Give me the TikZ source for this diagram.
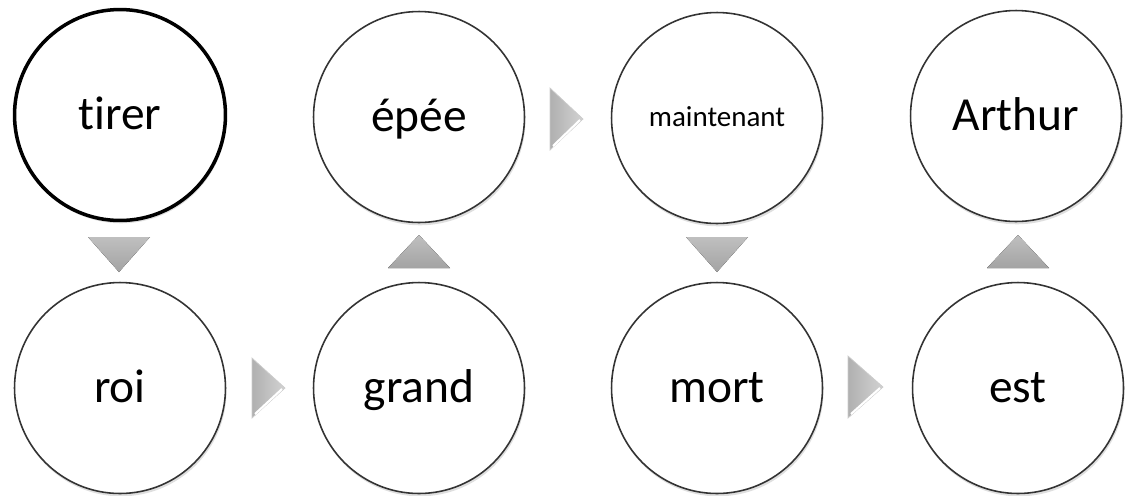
\documentclass[tikz,border=0pt]{standalone}
\usepackage{fontspec}
\setmainfont[Ligatures=NoCommon]{Carlito}
\usetikzlibrary{shadows}
\definecolor{ringgray}{rgb}{0.2,0.2,0.2}

\begin{document}
\begin{tikzpicture}[x=0.02cm,y=-0.02cm,
    word/.style={circle, draw=ringgray, line width=0.9pt, fill=white,
      minimum size=4.22cm, inner sep=0pt, font=\fontsize{27}{30}\selectfont,
      text height=16.5pt, text depth=0pt,
      drop shadow={shadow xshift=0.6pt, shadow yshift=-1.6pt, opacity=0.25}},
    vtri/.style={top color=gray!50, bottom color=gray!72, draw=none},
    htri/.style={left color=gray!62, right color=gray!35, draw=gray!40, line width=0.4pt}]
    \useasboundingbox (0,0) rectangle (1128,495);

    %% Top row
    \node[word, draw=black, line width=2pt] (tirer) at (120,115) {tirer};
    \node[word] (epee) at (419,117) {épée};
    \node[word, font=\fontsize{16.5}{19}\selectfont, text height=10.2pt] (maintenant) at (717,118) {maintenant};
    \node[word] (arthur) at (1016,116) {Arthur};

    %% Bottom row
    \node[word] (roi) at (120,388) {roi};
    \node[word] (grand) at (419,388) {grand};
    \node[word] (mort) at (717,388) {mort};
    \node[word] (est) at (1018,388) {est};

    %% Down and up triangles
    \fill[vtri] (88,237) -- (150,237) -- (119,272) -- cycle;
    \fill[vtri] (388,268) -- (450,268) -- (419,235) -- cycle;
    \fill[vtri] (686,237) -- (748,237) -- (717,272) -- cycle;
    \fill[vtri] (987,268) -- (1049,268) -- (1018,235) -- cycle;

    %% Right triangles
    \draw[htri] (550,88) -- (583,119) -- (550,150) -- cycle;
    \draw[htri] (252,358) -- (285,388) -- (252,418) -- cycle;
    \draw[htri] (848,356) -- (883,387) -- (848,418) -- cycle;
    \draw[white, line width=1.2pt] (553,146) -- (580,120);
    \draw[white, line width=1.2pt] (255,414) -- (282,389);
    \draw[white, line width=1.2pt] (851,414) -- (880,388);
\end{tikzpicture}
\end{document}
